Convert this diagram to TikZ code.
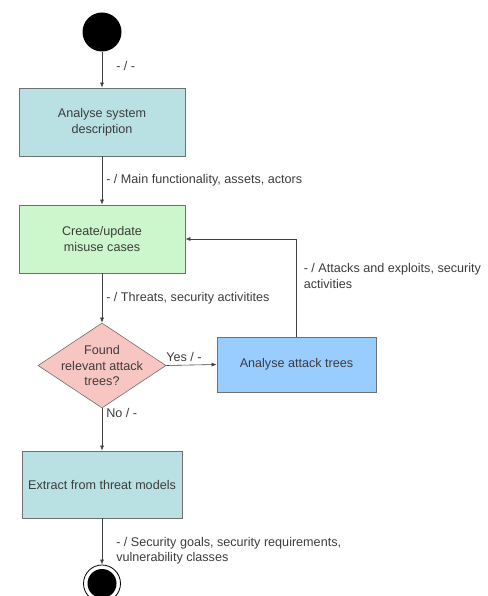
\documentclass[tikz,border=0pt]{standalone}
\usepackage{fontspec}
\setmainfont{Liberation Sans}
\usepackage{tikz}
\usetikzlibrary{arrows.meta,shapes.geometric}
\definecolor{ink}{HTML}{3C3C3C}
\definecolor{edge}{HTML}{404040}
\definecolor{cyanbox}{HTML}{B9E0E3}
\definecolor{greenbox}{HTML}{CCF7CC}
\definecolor{bluebox}{HTML}{99CCFF}
\definecolor{pinkbox}{HTML}{F8C6C2}
\definecolor{boxline}{HTML}{707070}

\begin{document}
\begin{tikzpicture}[
  font=\fontsize{12.6}{15.5}\selectfont,
  x=1pt, y=-1pt,
  act/.style={draw=boxline, line width=0.8pt, minimum width=166pt,
              minimum height=68pt, align=center, inner sep=2pt, text=ink},
  choice/.style={diamond, draw=boxline, line width=0.6pt, fill=pinkbox,
                 minimum width=128pt, minimum height=85pt, aspect=1.5,
                 align=center, inner sep=-5pt, text=ink},
  startstate/.style={circle, fill=black, minimum size=39pt, inner sep=0pt},
  endstate/.style={circle, draw=black, line width=0.8pt, fill=white,
                   minimum size=37pt, inner sep=0pt},
  ar/.style={-{Latex[length=5pt,width=4pt]}, line width=0.6pt, draw=edge},
  lab/.style={text=ink, inner sep=1pt, align=left},
]
\useasboundingbox (0,0) rectangle (487,596);

% ---------------- states and activities ----------------
\node[startstate] (start) at (102,32) {};
\node[act, fill=cyanbox] (sysdesc) at (102,122) {Analyse system\\description};
\node[act, fill=greenbox] (misuse) at (102,239) {Create/update\\misuse cases};
\node[choice] (found) at (102,365.5) {Found\\relevant attack\\trees?};
\node[act, fill=bluebox, minimum width=159pt, minimum height=55pt]
  (trees) at (296.5,364.5) {Analyse attack trees};
\node[act, fill=cyanbox, minimum width=160pt, minimum height=67pt]
  (extract) at (102,484.5) {Extract from threat models};
\node[endstate] (stop) at (102,583.5) {};
\node[startstate, minimum size=29pt] (stopdot) at (102,583.5) {};

% ---------------- main flow ----------------
\draw[ar] (start) --
  node[lab, anchor=west, pos=0.4, xshift=13pt] {- / -} (sysdesc);
\draw[ar] (sysdesc) --
  node[lab, anchor=west, pos=0.5, xshift=3pt]
  {- / Main functionality, assets, actors} (misuse);
\draw[ar] (misuse) --
  node[lab, anchor=west, pos=0.5, xshift=3pt]
  {- / Threats, security activitites} (found);
\draw[ar] (found.east) --
  node[lab, anchor=south, pos=0.35, yshift=2pt] {Yes / -} (trees.west);
\draw[ar] (found) --
  node[lab, anchor=west, pos=0.12, xshift=3pt] {No / -} (extract);
\draw[ar] (extract) --
  node[lab, anchor=west, pos=0.7, xshift=13pt]
  {- / Security goals, security requirements,\\vulnerability classes} (stop);

% the loop back from the attack trees to the misuse cases
\draw[ar] (trees.north) --
  node[lab, anchor=west, pos=0.62, xshift=6pt]
  {- / Attacks and exploits, security\\activities}
  (trees.north |- misuse.east) -- (misuse.east);

\end{tikzpicture}
\end{document}
